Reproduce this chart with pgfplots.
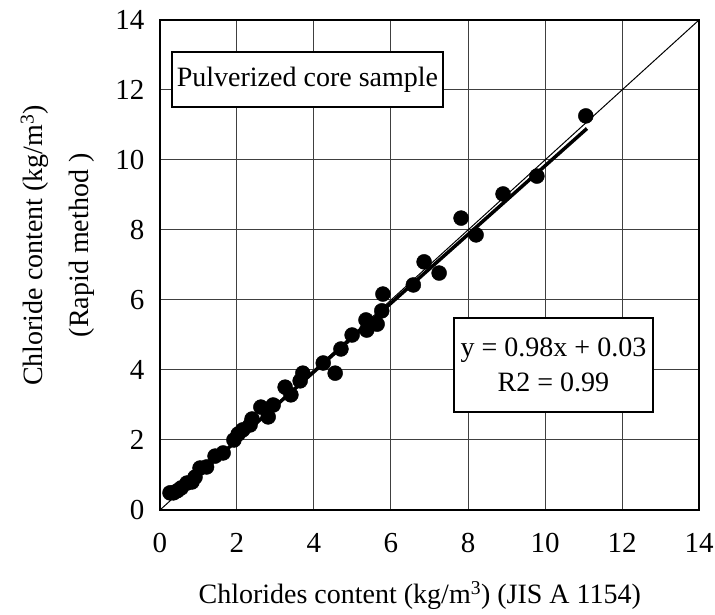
\documentclass[border=0pt]{standalone}
\usepackage{pgfplots}
\pgfplotsset{compat=1.18}
\usepackage{fontspec}
\setmainfont{Liberation Serif}
\pgfplotstableread{
x y
0.26 0.49
0.35 0.49
0.45 0.55
0.55 0.63
0.70 0.77
0.83 0.80
0.91 0.94
1.04 1.20
1.21 1.23
1.43 1.54
1.64 1.63
1.92 2.00
2.03 2.17
2.15 2.29
2.34 2.43
2.39 2.60
2.62 2.94
2.81 2.66
2.94 3.00
3.25 3.51
3.40 3.29
3.64 3.69
3.71 3.91
4.24 4.20
4.55 3.91
4.70 4.60
4.99 5.00
5.35 5.43
5.37 5.14
5.64 5.31
5.76 5.69
5.79 6.17
6.58 6.43
6.86 7.09
7.25 6.77
7.82 8.34
8.21 7.86
8.91 9.03
9.79 9.54
11.06 11.26
}\datatable
\begin{document}
\fontsize{28}{34}\selectfont
\begin{tikzpicture}
\useasboundingbox (-160pt,-105pt) rectangle (555pt,510pt);
\begin{axis}[
  at={(0pt,0pt)}, anchor=south west,
  width=539pt, height=490pt, scale only axis,
  xmin=0, xmax=14, ymin=0, ymax=14,
  xtick={0,2,...,14}, ytick={0,2,...,14},
  grid=major, major grid style={black!75, line width=1pt},
  axis line style={line width=1.5pt},
  major tick length=0pt,
  /pgf/number format/assume math mode=true,
  ticklabel style={font=\fontsize{29}{34}\selectfont},
  xticklabel style={yshift=-14pt},
  yticklabel style={xshift=-6pt},
  xlabel={Chlorides content (kg/m\textsuperscript{3}) (JIS A 1154)},
  xlabel style={at={(axis description cs:0.482,-0.175)}, anchor=center, font=\fontsize{28}{34}\selectfont},
  ylabel={Chloride content (kg/m\textsuperscript{3})\\(Rapid method )},
  ylabel style={at={(axis description cs:-0.19,0.54)}, anchor=center, align=center, font=\fontsize{28}{46}\selectfont},
]
\addplot[black, line width=1pt] coordinates {(0,0) (14,14)};
\addplot[black, line width=3.5pt] coordinates {(0.3,0.324) (11.09,10.90)};
\addplot[only marks, mark=*, mark size=7.5pt, black] table[x=x,y=y] {\datatable};
\node[draw, line width=1.2pt, fill=white, minimum width=271pt, minimum height=55pt, inner sep=0pt, font=\fontsize{28}{34}\selectfont] at (axis cs:3.83,12.3) {Pulverized core sample};
\node[draw, line width=1.2pt, fill=white, minimum width=199pt, minimum height=94pt, inner sep=0pt, align=center, font=\fontsize{28}{35}\selectfont] at (axis cs:10.22,4.14) {y = 0.98x + 0.03\\R2 = 0.99};
\end{axis}
\end{tikzpicture}
\end{document}
